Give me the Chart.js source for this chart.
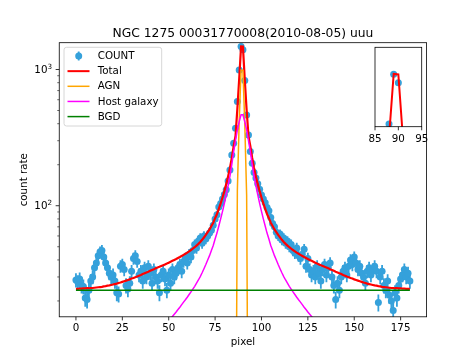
<!DOCTYPE html>
<html>
<head>
<meta charset="utf-8">
<script src="https://cdn.jsdelivr.net/npm/chart.js@4.4.1/dist/chart.umd.min.js"></script>
<style>
  html, body { margin: 0; padding: 0; background: #fff; }
  #wrap { position: relative; width: 474px; height: 356px; }
  #main { position: absolute; left: 0; top: 0; }
  #inset { position: absolute; left: 355px; top: 40px; }
</style>
</head>
<body>
<div id="wrap">
  <canvas id="main" width="474" height="356"></canvas>
  <canvas id="inset" width="85" height="112"></canvas>
</div>
<script>
// pixel index along the cut, 0..180
const pixel = Array.from({length: 181}, (_, i) => i);

const count = [
  28.5, 27.5, 29, 26, 25.5, 21, 20.5, 24, 28, 30,
  35, 38, 43, 46, 47, 42, 38, 35, 32, 30,
  31, 28, 23, 22.5, 36, 37, 34, 26, 24.5, 27,
  33, 41, 43, 39, 31, 33, 28, 35, 30, 36,
  32, 27, 34, 30, 28, 23, 31, 33, 29, 24,
  31, 27, 34, 30, 32, 35, 37, 33, 39, 41,
  38, 44, 42, 47, 52, 49, 55, 58, 53, 60,
  57, 60, 63, 66, 72, 80, 86, 98, 104, 112,
  121, 131, 152, 183, 236, 287, 371, 582, 990, 1476,
  1394, 830, 464, 331, 250, 205, 175, 160, 145, 132,
  120, 112, 105, 97, 92, 82, 74, 70, 64, 60,
  62, 56, 58, 53, 55, 50, 52, 47, 45, 49,
  43, 41, 44, 48, 36, 41, 34, 31, 33, 30,
  36, 32, 28, 34, 37, 31, 35, 38, 30, 26,
  20.5, 27, 24, 30, 33, 35, 31, 36, 40, 37,
  42, 38, 34, 36, 32, 30, 27, 33, 35, 31,
  34, 36, 33, 19.5, 30, 33, 26, 24, 28, 22,
  20, 17, 23, 21, 26, 29, 31, 34, 30, 32, 28
];

const countErr = [
  3.4, 3.4, 3.4, 3.3, 3.2, 2.9, 2.9, 3.1, 3.4, 3.5,
  3.8, 3.9, 4.2, 4.3, 4.4, 4.1, 3.9, 3.8, 3.6, 3.5,
  3.6, 3.4, 3.1, 3.0, 3.8, 3.9, 3.7, 3.3, 3.2, 3.3,
  3.7, 4.1, 4.2, 4.0, 3.6, 3.7, 3.4, 3.8, 3.5, 3.8,
  3.6, 3.3, 3.7, 3.5, 3.4, 3.1, 3.6, 3.7, 3.4, 3.1,
  3.6, 3.3, 3.7, 3.5, 3.6, 3.8, 3.9, 3.7, 4.0, 4.1,
  3.9, 4.2, 4.1, 4.4, 4.6, 4.5, 4.7, 4.9, 4.7, 5.0,
  4.8, 5.0, 5.1, 5.2, 5.4, 5.7, 5.9, 6.3, 6.5, 6.8,
  7.0, 7.3, 7.9, 8.7, 9.8, 10.8, 12.3, 15.4, 20.1, 24.6,
  23.9, 18.4, 13.8, 11.6, 10.1, 9.2, 8.5, 8.1, 7.7, 7.4,
  7.0, 6.8, 6.6, 6.3, 6.1, 5.8, 5.5, 5.4, 5.1, 5.0,
  5.0, 4.8, 4.9, 4.7, 4.7, 4.5, 4.6, 4.4, 4.3, 4.5,
  4.2, 4.1, 4.2, 4.4, 3.8, 4.1, 3.7, 3.6, 3.7, 3.5,
  3.8, 3.6, 3.4, 3.7, 3.9, 3.6, 3.8, 3.9, 3.5, 3.3,
  2.9, 3.3, 3.1, 3.5, 3.7, 3.8, 3.6, 3.8, 4.0, 3.9,
  4.1, 3.9, 3.7, 3.8, 3.6, 3.5, 3.3, 3.7, 3.8, 3.6,
  3.7, 3.8, 3.7, 2.8, 3.5, 3.7, 3.3, 3.1, 3.4, 3.0,
  2.9, 2.6, 3.1, 2.9, 3.3, 3.4, 3.6, 3.7, 3.5, 3.6, 3.4
];

const total = [
  24.5, 24.5, 24.6, 24.6, 24.7, 24.7, 24.8, 24.8, 24.9, 24.9,
  25.0, 25.1, 25.2, 25.3, 25.4, 25.6, 25.7, 25.9, 26.0, 26.2,
  26.4, 26.6, 26.8, 27.1, 27.3, 27.6, 27.9, 28.2, 28.5, 28.8,
  29.2, 29.5, 29.9, 30.2, 30.6, 31.0, 31.5, 31.9, 32.4, 32.8,
  33.3, 33.8, 34.2, 34.7, 35.2, 35.6, 36.1, 36.6, 37.1, 37.6,
  38.2, 38.8, 39.4, 40.0, 40.6, 41.3, 42.0, 42.8, 43.6, 44.4,
  45.3, 46.3, 47.3, 48.4, 49.6, 51, 52.5, 54.2, 56.2, 58.5,
  61, 64, 67, 71, 75, 81, 87, 95, 104, 115,
  128, 144, 164, 189, 224, 274, 325, 514, 859, 1479,
  1474, 839, 504, 324, 274, 224, 189, 164, 144, 128,
  115, 104, 95, 87, 81, 75, 71, 67, 64, 61,
  58.5, 56.2, 54.2, 52.5, 51, 49.6, 48.4, 47.3, 46.3, 45.3,
  44.4, 43.6, 42.8, 42.0, 41.3, 40.6, 40.0, 39.4, 38.8, 38.2,
  37.6, 37.1, 36.6, 36.1, 35.6, 35.2, 34.7, 34.2, 33.8, 33.3,
  32.8, 32.4, 31.9, 31.5, 31.0, 30.6, 30.2, 29.9, 29.5, 29.2,
  28.8, 28.5, 28.2, 27.9, 27.6, 27.3, 27.1, 26.8, 26.6, 26.4,
  26.2, 26.0, 25.9, 25.7, 25.6, 25.4, 25.3, 25.2, 25.1, 25.0,
  24.9, 24.9, 24.8, 24.8, 24.7, 24.7, 24.6, 24.6, 24.5, 24.5, 24.5
];

const host = [
  0.48, 0.5, 0.55, 0.6, 0.65, 0.7, 0.75, 0.8, 0.85, 0.9,
  1.0, 1.1, 1.2, 1.3, 1.4, 1.6, 1.7, 1.9, 2.0, 2.2,
  2.4, 2.6, 2.8, 3.1, 3.3, 3.6, 3.9, 4.2, 4.5, 4.8,
  5.2, 5.5, 5.9, 6.2, 6.6, 7.0, 7.5, 7.9, 8.4, 8.8,
  9.3, 9.8, 10.2, 10.7, 11.2, 11.6, 12.1, 12.6, 13.1, 13.6,
  14.2, 14.8, 15.4, 16.0, 16.6, 17.3, 18.0, 18.8, 19.6, 20.4,
  21.3, 22.3, 23.3, 24.4, 25.6, 27, 28.5, 30.2, 32.2, 34.5,
  37, 40, 43, 47, 51, 57, 63, 71, 80, 91,
  104, 120, 140, 165, 200, 250, 300, 360, 415, 465,
  465, 415, 360, 300, 250, 200, 165, 140, 120, 104,
  91, 80, 71, 63, 57, 51, 47, 43, 40, 37,
  34.5, 32.2, 30.2, 28.5, 27, 25.6, 24.4, 23.3, 22.3, 21.3,
  20.4, 19.6, 18.8, 18.0, 17.3, 16.6, 16.0, 15.4, 14.8, 14.2,
  13.6, 13.1, 12.6, 12.1, 11.6, 11.2, 10.7, 10.2, 9.8, 9.3,
  8.8, 8.4, 7.9, 7.5, 7.0, 6.6, 6.2, 5.9, 5.5, 5.2,
  4.8, 4.5, 4.2, 3.9, 3.6, 3.3, 3.1, 2.8, 2.6, 2.4,
  2.2, 2.0, 1.9, 1.7, 1.6, 1.4, 1.3, 1.2, 1.1, 1.0,
  0.9, 0.85, 0.8, 0.75, 0.7, 0.65, 0.6, 0.55, 0.5, 0.48, 0.45
];

// AGN only matters close to the nucleus
const agnPixels = [86, 87, 88, 89, 90, 91, 92, 93];
const agnValues = [0.5, 130, 420, 990, 985, 400, 120, 0.4];

const bgdPixels = [0, 180];
const bgdValues = [24, 24];

const xTicks = [0, 25, 50, 75, 100, 125, 150, 175];
const yMajor = [100, 1000];
const yMajorExp = ['2', '3'];
const yMinor = [20, 30, 40, 50, 60, 70, 80, 90, 200, 300, 400, 500, 600, 700, 800, 900];
const insetTicks = [85, 90, 95];

const legendLabels = ['COUNT', 'Total', 'AGN', 'Host galaxy', 'BGD'];
const TITLE = 'NGC 1275 00031770008(2010-08-05) uuu';

const BLUE = '#35a1db';
const COLORS = { total: '#ff0000', agn: '#ffa500', host: '#ff00ff', bgd: '#008000' };
const FONT = '"DejaVu Sans", sans-serif';
const TXT = 10.3;
const DOT = 3.5;

function seg(ctx, x1, y1, x2, y2) {
  ctx.beginPath(); ctx.moveTo(x1, y1); ctx.lineTo(x2, y2); ctx.stroke();
}

function drawErrorBars(chart) {
  const {ctx, chartArea: a, scales: {x, y}} = chart;
  ctx.save();
  ctx.beginPath(); ctx.rect(a.left, a.top, a.width, a.height); ctx.clip();
  ctx.strokeStyle = BLUE; ctx.lineWidth = 1.8;
  ctx.beginPath();
  pixel.forEach((p, i) => {
    const px = x.getPixelForValue(p);
    ctx.moveTo(px, y.getPixelForValue(count[i] + countErr[i]));
    ctx.lineTo(px, y.getPixelForValue(count[i] - countErr[i]));
  });
  ctx.stroke();
  ctx.restore();
}

function drawPow(ctx, exp, xr, yc) {
  ctx.textAlign = 'left'; ctx.textBaseline = 'alphabetic';
  ctx.font = `${TXT}px ${FONT}`;
  const wb = ctx.measureText('10').width;
  ctx.font = `${TXT * 0.7}px ${FONT}`;
  const we = ctx.measureText(exp).width;
  const x0 = xr - wb - we;
  const base = yc + 3.75;
  ctx.font = `${TXT}px ${FONT}`; ctx.fillText('10', x0, base);
  ctx.font = `${TXT * 0.7}px ${FONT}`; ctx.fillText(exp, x0 + wb, base - 4.6);
}

function drawLegend(ctx) {
  ctx.save();
  ctx.fillStyle = 'rgba(255,255,255,0.8)';
  ctx.strokeStyle = '#cccccc'; ctx.lineWidth = 0.8;
  ctx.beginPath(); ctx.roundRect(64, 47.3, 97.7, 78.7, 2.5); ctx.fill(); ctx.stroke();
  const handles = [BLUE, COLORS.total, COLORS.agn, COLORS.host, COLORS.bgd];
  ctx.font = `${TXT}px ${FONT}`; ctx.textAlign = 'left'; ctx.textBaseline = 'middle';
  legendLabels.forEach((lab, i) => {
    const yy = 56 + i * 15.15;
    if (i === 0) {
      ctx.strokeStyle = BLUE; ctx.lineWidth = 1.8;
      seg(ctx, 78.7, yy - 4.5, 78.7, yy + 4.5);
      ctx.fillStyle = BLUE;
      ctx.beginPath(); ctx.arc(78.7, yy, DOT, 0, Math.PI * 2); ctx.fill();
    } else {
      ctx.strokeStyle = handles[i]; ctx.lineWidth = i === 1 ? 2 : 1.5;
      seg(ctx, 67.5, yy, 89.5, yy);
    }
    ctx.fillStyle = '#000';
    ctx.fillText(lab, 97.7, yy + 0.5);
  });
  ctx.restore();
}

const mainFrame = {
  id: 'mainFrame',
  beforeDatasetsDraw(chart) { drawErrorBars(chart); },
  afterDraw(chart) {
    const {ctx, chartArea: a, scales: {x, y}} = chart;
    ctx.save();
    ctx.strokeStyle = '#000'; ctx.fillStyle = '#000';
    ctx.lineWidth = 0.8;
    ctx.strokeRect(a.left, a.top, a.width, a.height);

    ctx.font = `${TXT}px ${FONT}`;
    ctx.textAlign = 'center'; ctx.textBaseline = 'middle';
    xTicks.forEach(v => {
      const px = x.getPixelForValue(v);
      seg(ctx, px, a.bottom, px, a.bottom + 3.6);
      ctx.fillText(String(v), px, a.bottom + 11.5);
    });
    ctx.lineWidth = 0.6;
    yMinor.forEach(v => {
      const py = y.getPixelForValue(v);
      seg(ctx, a.left - 2, py, a.left, py);
    });
    ctx.lineWidth = 0.8;
    yMajor.forEach((v, i) => {
      const py = y.getPixelForValue(v);
      seg(ctx, a.left - 3.6, py, a.left, py);
      drawPow(ctx, yMajorExp[i], a.left - 7.2, py);
    });

    ctx.font = `${TXT}px ${FONT}`;
    ctx.textAlign = 'center'; ctx.textBaseline = 'middle';
    ctx.fillText('pixel', (a.left + a.right) / 2, 342.5);
    ctx.save();
    ctx.translate(24, (a.top + a.bottom) / 2);
    ctx.rotate(-Math.PI / 2);
    ctx.fillText('count rate', 0, 0);
    ctx.restore();

    ctx.font = `12.3px ${FONT}`;
    ctx.textBaseline = 'alphabetic';
    ctx.fillText(TITLE, (a.left + a.right) / 2, 37.3);
    ctx.restore();
    drawLegend(ctx);
  }
};

const insetFrame = {
  id: 'insetFrame',
  beforeDraw(chart) {
    const {ctx, chartArea: a} = chart;
    ctx.save(); ctx.fillStyle = '#fff';
    ctx.fillRect(a.left, a.top, a.width, a.height);
    ctx.restore();
  },
  beforeDatasetsDraw(chart) { drawErrorBars(chart); },
  afterDraw(chart) {
    const {ctx, chartArea: a, scales: {x}} = chart;
    ctx.save();
    ctx.strokeStyle = '#000'; ctx.fillStyle = '#000'; ctx.lineWidth = 0.8;
    ctx.strokeRect(a.left, a.top, a.width, a.height);
    ctx.font = `${TXT}px ${FONT}`;
    ctx.textAlign = 'center'; ctx.textBaseline = 'middle';
    insetTicks.forEach(v => {
      const px = x.getPixelForValue(v);
      seg(ctx, px, a.bottom, px, a.bottom + 3.6);
      ctx.fillText(String(v), px, a.bottom + 12.3);
    });
    ctx.restore();
  }
};

const baseOpts = {
  responsive: false, animation: false, events: [],
  plugins: { legend: { display: false }, tooltip: { enabled: false } },
  elements: { line: { tension: 0 } }
};

const lineSet = (data, color, width, order) => ({
  data, borderColor: color, borderWidth: width, pointRadius: 0,
  fill: false, order, clip: 0
});

new Chart(document.getElementById('main'), {
  type: 'line',
  data: {
    labels: pixel,
    datasets: [
      { data: count, showLine: false, pointRadius: DOT, pointBorderWidth: 0,
        pointBackgroundColor: BLUE, order: 5, clip: 0 },
      lineSet(total, COLORS.total, 2.2, 4),
      lineSet(agnPixels.map((p, i) => ({x: p, y: agnValues[i]})), COLORS.agn, 1.5, 3),
      lineSet(host, COLORS.host, 1.5, 2),
      lineSet(bgdPixels.map((p, i) => ({x: p, y: bgdValues[i]})), COLORS.bgd, 1.5, 1)
    ]
  },
  options: {
    ...baseOpts,
    layout: { padding: { left: 59.25, right: 47.4, top: 42.7, bottom: 39.2 } },
    scales: {
      x: { type: 'linear', min: -9, max: 189, display: false },
      y: { type: 'logarithmic', min: 15.3, max: 1573, display: false }
    }
  },
  plugins: [mainFrame]
});

new Chart(document.getElementById('inset'), {
  type: 'line',
  data: {
    labels: pixel,
    datasets: [
      { data: count, showLine: false, pointRadius: DOT, pointBorderWidth: 0,
        pointBackgroundColor: BLUE, order: 2, clip: 0 },
      lineSet(total, COLORS.total, 2, 1)
    ]
  },
  options: {
    ...baseOpts,
    layout: { padding: { left: 20, right: 18.3, top: 7.3, bottom: 25.3 } },
    scales: {
      x: { type: 'linear', min: 85, max: 95, display: false },
      y: { type: 'linear', min: 964, max: 1739, display: false }
    }
  },
  plugins: [insetFrame]
});
</script>
</body>
</html>
